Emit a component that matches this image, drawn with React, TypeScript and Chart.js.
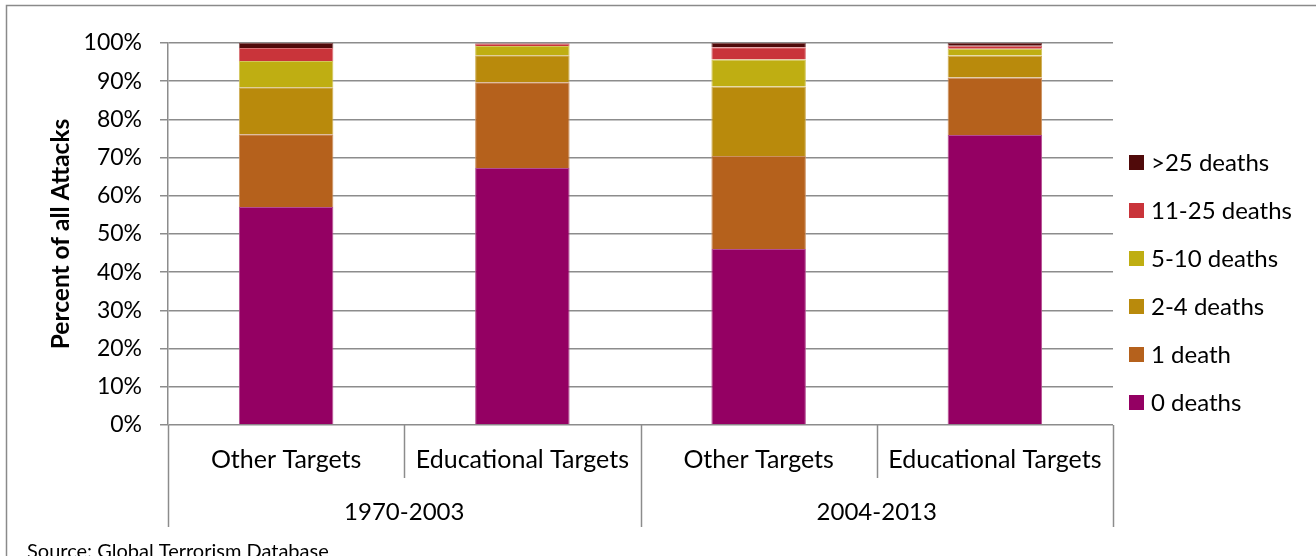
import React, { useEffect, useRef } from "react";
import { Chart, registerables } from "chart.js";

Chart.register(...registerables);

const categories = ["Other Targets", "Educational Targets", "Other Targets", "Educational Targets"];
const periods = ["1970-2003", "2004-2013"];
const seriesLabels = ["0 deaths", "1 death", "2-4 deaths", "5-10 deaths", "11-25 deaths", ">25 deaths"];
const deaths0 = [57.1, 67.3, 46.1, 75.9];
const deaths1 = [19.0, 22.4, 24.3, 15.1];
const deaths2to4 = [12.3, 7.1, 18.2, 5.7];
const deaths5to10 = [6.9, 2.4, 7.1, 1.8];
const deaths11to25 = [3.4, 0.7, 3.2, 0.8];
const deathsOver25 = [1.3, 0.1, 1.1, 0.7];
const seriesColors = ["#940063", "#B5611C", "#B98A0C", "#BFAE12", "#C9343A", "#500A0A"];
const sourceText = "Source: Global Terrorism Database";

const FONT = 'Lato, "Open Sans", sans-serif';
const GRID = "#8c8c8c";
const TEXT = "#000000";

const seriesValues = [deaths0, deaths1, deaths2to4, deaths5to10, deaths11to25, deathsOver25];

function lighten(hex: string, amt: number) {
  const n = parseInt(hex.slice(1), 16);
  const r = (n >> 16) & 255;
  const g = (n >> 8) & 255;
  const b = n & 255;
  const f = (c: number) => Math.round(c + (255 - c) * amt);
  return `rgb(${f(r)},${f(g)},${f(b)})`;
}

const framePlugin = {
  id: "frame",
  beforeDraw(chart: any) {
    const { ctx, width, height } = chart;
    ctx.save();
    ctx.fillStyle = "#ffffff";
    ctx.fillRect(0, 0, width, height);
    ctx.strokeStyle = "#8a8a8a";
    ctx.lineWidth = 1.5;
    ctx.strokeRect(6.5, 5.5, width + 20, height + 40);
    ctx.restore();
  },
};

const xGroupPlugin = {
  id: "xGroups",
  afterDraw(chart: any) {
    const { ctx, chartArea } = chart;
    const xs = chart.scales.x;
    const n = categories.length;
    const step = (chartArea.right - chartArea.left) / n;
    const bottom = chartArea.bottom;
    ctx.save();
    ctx.strokeStyle = GRID;
    ctx.lineWidth = 1.5;
    for (let i = 0; i <= n; i++) {
      const bx = i < n ? xs.getPixelForValue(i) - step / 2 : xs.getPixelForValue(n - 1) + step / 2;
      const len = i % 2 === 0 ? 102 : 53;
      ctx.beginPath();
      ctx.moveTo(Math.round(bx) + 0.5, bottom);
      ctx.lineTo(Math.round(bx) + 0.5, bottom + len);
      ctx.stroke();
    }
    ctx.fillStyle = TEXT;
    ctx.textAlign = "center";
    ctx.textBaseline = "middle";
    ctx.font = `25px ${FONT}`;
    for (let i = 0; i < n; i++) {
      ctx.fillText(categories[i], xs.getPixelForValue(i), bottom + 35);
    }
    ctx.font = `24px ${FONT}`;
    for (let g = 0; g < periods.length; g++) {
      const cx = (xs.getPixelForValue(g * 2) + xs.getPixelForValue(g * 2 + 1)) / 2;
      ctx.fillText(periods[g], cx, bottom + 87);
    }
    ctx.textAlign = "left";
    ctx.textBaseline = "alphabetic";
    ctx.font = `20px ${FONT}`;
    ctx.fillText(sourceText, 27, 558);
    ctx.restore();
  },
};

const legendPlugin = {
  id: "customLegend",
  afterDraw(chart: any) {
    const { ctx } = chart;
    const ds = chart.data.datasets;
    ctx.save();
    ctx.font = `24px ${FONT}`;
    ctx.textBaseline = "middle";
    ctx.textAlign = "left";
    const startY = 162.5;
    const gap = 48;
    for (let k = 0; k < ds.length; k++) {
      const d = ds[ds.length - 1 - k];
      const y = startY + k * gap;
      ctx.fillStyle = d.backgroundColor;
      ctx.fillRect(1129, y - 7.5, 15, 15);
      ctx.fillStyle = TEXT;
      ctx.fillText(d.label, 1151, y + 1);
    }
    ctx.restore();
  },
};

export default function App() {
  const ref = useRef<HTMLCanvasElement | null>(null);
  useEffect(() => {
    if (!ref.current) return;
    const chart = new Chart(ref.current, {
      type: "bar",
      data: {
        labels: categories,
        datasets: seriesLabels.map((label, i) => ({
          label,
          data: seriesValues[i],
          backgroundColor: seriesColors[i],
          borderColor: lighten(seriesColors[i], 0.3),
          borderWidth: { top: 1, left: 1, right: 1, bottom: 0 },
          borderSkipped: false,
          categoryPercentage: 1,
          barPercentage: 0.4,
        })),
      },
      options: {
        responsive: false,
        animation: false,
        devicePixelRatio: 1,
        layout: { padding: { left: 0, right: 203, top: 43, bottom: 131 } },
        plugins: { legend: { display: false }, tooltip: { enabled: false } },
        scales: {
          x: {
            stacked: true,
            ticks: { display: false },
            grid: { display: false, drawTicks: false },
            border: { display: false },
            afterFit: (s: any) => {
              s.height = 0;
            },
          },
          y: {
            stacked: true,
            min: 0,
            max: 100,
            ticks: {
              stepSize: 10,
              padding: 18,
              color: TEXT,
              font: { family: FONT, size: 23 },
              callback: (v: any) => `${v}%`,
            },
            grid: { color: GRID, lineWidth: 1.5, tickLength: 8, drawTicks: true },
            border: { display: true, color: GRID, width: 1.5 },
            title: {
              display: true,
              text: "Percent of all Attacks",
              color: TEXT,
              font: { family: FONT, size: 24.5, weight: "bold" },
              padding: { top: 46, bottom: 0 },
            },
            afterFit: (s: any) => {
              s.width = 168;
            },
          },
        },
      },
      plugins: [framePlugin, xGroupPlugin, legendPlugin],
    });
    return () => chart.destroy();
  }, []);
  return (
    <div style={{ position: "fixed", left: 0, top: 0, width: 1316, height: 556, overflow: "hidden", background: "#fff" }}>
      <canvas ref={ref} width={1316} height={556} style={{ width: 1316, height: 556, display: "block" }} />
    </div>
  );
}
